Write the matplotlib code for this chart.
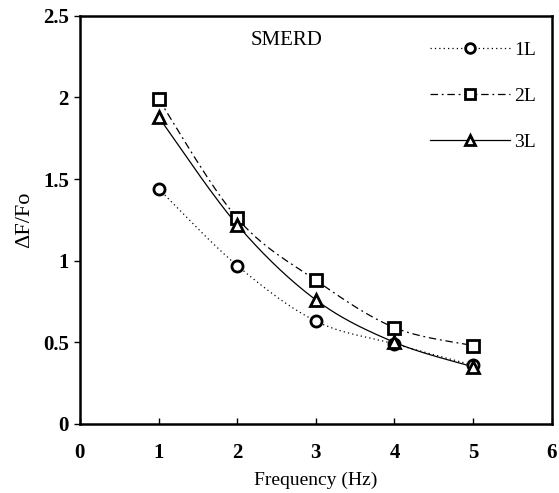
import numpy as np
import matplotlib
matplotlib.use("Agg")
import matplotlib.pyplot as plt

plt.rcParams.update({
    "font.family": ["Liberation Serif", "DejaVu Serif"],
    "mathtext.fontset": "stix",
})

freq = [1, 2, 3, 4, 5]
vals_1l = [1.44, 0.97, 0.63, 0.49, 0.36]
vals_2l = [1.99, 1.26, 0.88, 0.59, 0.48]
vals_3l = [1.88, 1.22, 0.76, 0.50, 0.35]
labels = ["1L", "2L", "3L"]


def smooth(x, y, n=40):
    # bezier smoothing through the points, like a spreadsheet "smoothed line"
    x = np.asarray(x, float)
    y = np.asarray(y, float)
    pts = np.column_stack([x, y])
    out = []
    for i in range(len(pts) - 1):
        p0 = pts[i - 1] if i > 0 else pts[i]
        p1 = pts[i]
        p2 = pts[i + 1]
        p3 = pts[i + 2] if i + 2 < len(pts) else pts[i + 1]
        c1 = p1 + (p2 - p0) / 6.0
        c2 = p2 - (p3 - p1) / 6.0
        t = np.linspace(0, 1, n)[:, None]
        seg = ((1 - t) ** 3) * p1 + 3 * ((1 - t) ** 2) * t * c1 + 3 * (1 - t) * t ** 2 * c2 + t ** 3 * p2
        out.append(seg if i == 0 else seg[1:])
    seg = np.vstack(out)
    return seg[:, 0], seg[:, 1]


fig = plt.figure(figsize=(5.59, 4.93), dpi=100)
ax = fig.add_axes([0.143, 0.140, 0.844, 0.828])

series = [
    (vals_1l, "o", (0, (1, 2.5))),
    (vals_2l, "s", (0, (6, 3, 1.5, 3))),
    (vals_3l, "^", "-"),
]
for vals, mk, ls in series:
    sx, sy = smooth(freq, vals)
    ax.plot(sx, sy, color="black", lw=0.9, ls=ls, zorder=2)
    ax.plot(freq, vals, ls="none", marker=mk, ms=8, mfc="white", mec="black", mew=2, zorder=3)

handles = []
for (vals, mk, ls), lab in zip(series, labels):
    h, = ax.plot([], [], color="black", lw=0.9, ls=ls, marker=mk, ms=7, mfc="white",
                 mec="black", mew=2, label=lab)
    handles.append(h)
ax.legend(handles=handles, loc="upper right", frameon=False, handlelength=4.1,
          handletextpad=0.2, labelspacing=1.45, fontsize=14, borderaxespad=0.3,
          bbox_to_anchor=(0.995, 0.97))

ax.text(2.17, 2.35, "SMERD", fontsize=15, ha="left", va="center")

ax.set_xlim(0, 6)
ax.set_ylim(0, 2.5)
ax.set_xticks(range(0, 7))
ax.set_yticks([0, 0.5, 1, 1.5, 2, 2.5])
ax.set_yticklabels(["0", "0.5", "1", "1.5", "2", "2.5"])
ax.tick_params(axis="x", direction="in", length=4, width=1, pad=14, labelsize=15)
ax.tick_params(axis="y", direction="out", length=4, width=1, pad=4, labelsize=15)
for lab in ax.get_xticklabels() + ax.get_yticklabels():
    lab.set_fontweight("bold")
for sp in ax.spines.values():
    sp.set_linewidth(1.8)

ax.set_xlabel("Frequency (Hz)", fontsize=14, labelpad=6)
ax.set_ylabel("ΔF/Fo", fontsize=16, labelpad=6)

fig.savefig("out.png", dpi=100)
